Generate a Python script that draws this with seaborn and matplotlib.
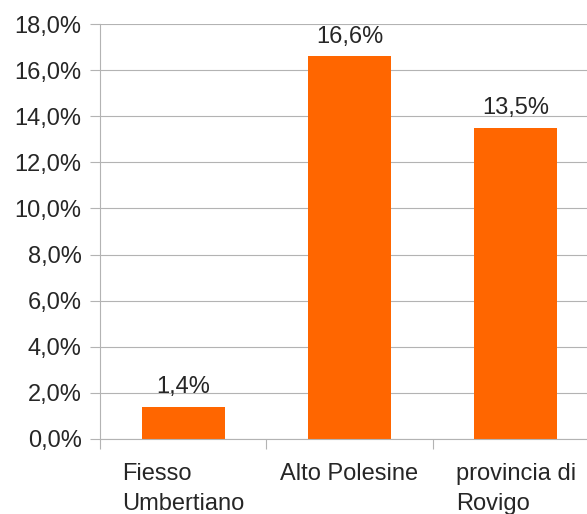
import matplotlib
matplotlib.use("Agg")
import matplotlib.pyplot as plt
import seaborn as sns
from matplotlib.ticker import FuncFormatter, FixedLocator

# data
categories = ["Fiesso\nUmbertiano", "Alto Polesine", "provincia di\nRovigo"]
values = [1.4, 16.6, 13.5]
y_ticks = [0, 2, 4, 6, 8, 10, 12, 14, 16, 18]

sns.set_style("white")
plt.rcParams['font.family'] = ['Liberation Sans', 'DejaVu Sans']

fig = plt.figure(figsize=(5.87, 5.14), dpi=100)
# plot area runs past the right edge of the picture, as in the original
ax = fig.add_axes([100 / 587, 75 / 514, 499 / 587, 415 / 514])

sns.barplot(x=categories, y=values, color="#ff6600", saturation=1, width=0.5,
            linewidth=0, ax=ax)

ax.set_xlim(-0.5, 2.5)
ax.set_ylim(0, 18)
ax.set_yticks(y_ticks)
ax.yaxis.set_major_formatter(FuncFormatter(lambda v, p: f"{v:.1f}%".replace(".", ",")))
ax.grid(axis="y", color="#b3b3b3", linewidth=0.8)
ax.set_axisbelow(True)
ax.set_xlabel("")
ax.set_ylabel("")

for s in ["top", "right"]:
    ax.spines[s].set_visible(False)
for s in ["left", "bottom"]:
    ax.spines[s].set_color("#b3b3b3")
    ax.spines[s].set_linewidth(0.8)

ax.tick_params(axis="y", length=7.2, width=0.8, color="#b3b3b3", pad=6, labelsize=17, left=True)
ax.tick_params(axis="x", which="major", length=0, pad=17, labelsize=17)
ax.xaxis.set_minor_locator(FixedLocator([-0.5, 0.5, 1.5, 2.5]))
ax.tick_params(axis="x", which="minor", length=7.2, width=0.8, color="#b3b3b3", bottom=True)
for t in ax.get_xticklabels():
    t.set_multialignment("left")
    t.set_linespacing(1.5)

ax.bar_label(ax.containers[0], labels=[f"{v:.1f}%".replace(".", ",") for v in values],
             fontsize=17, padding=6)

fig.savefig("out.png", dpi=100)
